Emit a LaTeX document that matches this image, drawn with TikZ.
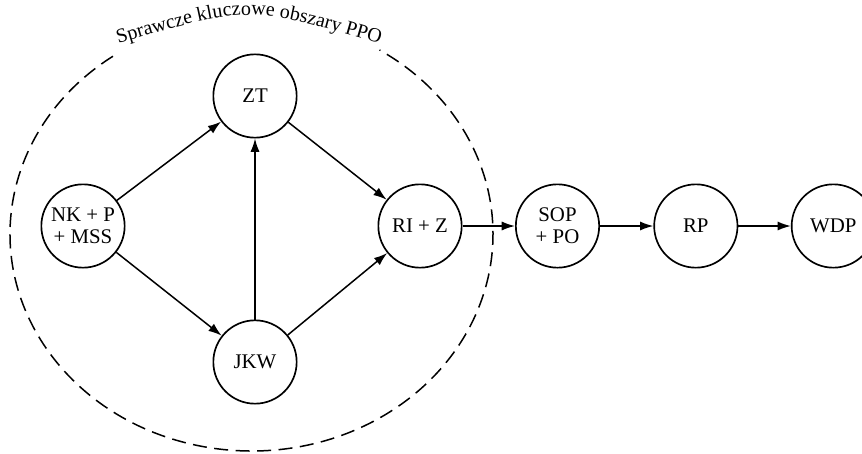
\documentclass[tikz,border=0pt]{standalone}
\usepackage{fontspec}
\setmainfont{Liberation Serif}
\usetikzlibrary{positioning, arrows.meta, decorations.text}

\begin{document}
\begin{tikzpicture}[x=0.6pt, y=0.6pt,
		stage/.style={shape=circle, draw, line width=1pt, minimum size=50pt, inner sep=0pt, align=center, font=\fontsize{12.5}{13}\selectfont},
		link/.style={line width=0.9pt, -{Latex[length=8pt, width=5.5pt]}},
		ppo/.style={line width=0.9pt, dash pattern=on 8.4pt off 4.5pt}]
		\useasboundingbox (0,0) rectangle (862,453);
		
		% Sprawcze kluczowe obszary
		\node[stage] (nk) at (83,227) {NK + P\\+ MSS};
		\node[stage] (zt) at (255,357) {ZT};
		\node[stage] (jkw) at (255,91) {JKW};
		\node[stage] (ri) at (420,227) {RI + Z};
		\path[link] (nk) edge (zt);
		\path[link] (nk) edge (jkw);
		\path[link] (jkw) edge (zt);
		\path[link] (zt) edge (ri);
		\path[link] (jkw) edge (ri);
		
		% obszar PPO
		\coordinate (ppoc) at (251.5,219);
		\draw[ppo] (ppoc) ++(125:241.5 and 217) arc[start angle=125, end angle=418, x radius=241.5, y radius=217];
		\path[decorate, decoration={text along path, text align=center, text={|\fontsize{12}{13}\selectfont|Sprawcze kluczowe obszary PPO}}] (114,408) .. controls (249,448) .. (384,408);
		
		% dalej
		\node[stage, right = 31.5pt of ri] (sop) {SOP\\+ PO};
		\node[stage, right = 32pt of sop] (rp) {RP};
		\node[stage, right = 31.5pt of rp] (wdp) {WDP};
		\path[link] (ri) edge (sop);
		\path[link] (sop) edge (rp);
		\path[link] (rp) edge (wdp);
	\end{tikzpicture}
\end{document}
